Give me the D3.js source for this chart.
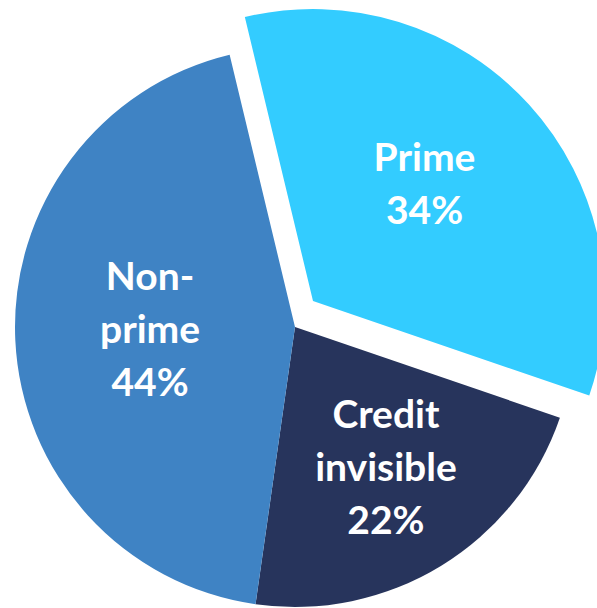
<!DOCTYPE html>
<html>
<head>
<meta charset="utf-8">
<script src="https://cdn.jsdelivr.net/npm/d3@7"></script>
<style>
  body { margin: 0; background: #fff; }
  svg { display: block; }
  .sliceLabel { font-family: Lato, "Open Sans", sans-serif; font-weight: 700; fill: #fff; }
</style>
</head>
<body>
<div id="pie"></div>
<script>
// data
var categories = ["Prime", "Credit invisible", "Non-prime"];
var shares = [34, 22, 44];
var labelLines = [["Prime", "34%"], ["Credit", "invisible", "22%"], ["Non-", "prime", "44%"]];
var colors = ["#33CCFF", "#27345C", "#3F83C4"];

var svgWidth = 597;
var svgHeight = 608;

var center = { x: 295, y: 327 };
var radius = 280;

// exploded slice (Prime) sits a bit out and is drawn slightly larger
var explode = { dx: 18, dy: -26, radius: 292 };
// label placement: distance from the slice tip and a small nudge off the mid angle (deg)
var labelRadius = [162, 167, 145];
var labelNudge = [-4.2, -1.5, 1.8];
var lineHeight = 53;
var fontSize = 39;

var svg = d3.select("#pie")
  .append("svg")
  .attr("width", svgWidth)
  .attr("height", svgHeight);

var chartGroup = svg.append("g")
  .attr("transform", `translate(${center.x}, ${center.y})`);

var startAngle = -13.5 * Math.PI / 180;

var pie = d3.pie()
  .sort(null)
  .startAngle(startAngle)
  .endAngle(startAngle + 2 * Math.PI)
  .value(d => d);

var arcs = pie(shares);

var arc = d3.arc().innerRadius(0);

var slices = chartGroup.selectAll("g.slice")
  .data(arcs)
  .enter()
  .append("g")
  .classed("slice", true)
  .attr("transform", (d, i) => i === 0 ? `translate(${explode.dx}, ${explode.dy})` : null);

slices.append("path")
  .attr("d", (d, i) => arc.outerRadius(i === 0 ? explode.radius : radius)(d))
  .attr("fill", (d, i) => colors[i]);

// labels along each slice's mid angle
slices.each(function(d, i) {
  var mid = (d.startAngle + d.endAngle) / 2 + labelNudge[i] * Math.PI / 180;
  var lx = Math.sin(mid) * labelRadius[i];
  var ly = -Math.cos(mid) * labelRadius[i];
  var lines = labelLines[i];
  var capH = fontSize * 0.72;
  var first = ly - (lines.length - 1) / 2 * lineHeight + capH / 2;

  var text = d3.select(this).append("text")
    .attr("class", "sliceLabel")
    .attr("text-anchor", "middle")
    .style("font-size", fontSize + "px");

  lines.forEach(function(line, j) {
    text.append("tspan")
      .attr("x", lx)
      .attr("y", first + j * lineHeight)
      .text(line);
  });
});
</script>
</body>
</html>
